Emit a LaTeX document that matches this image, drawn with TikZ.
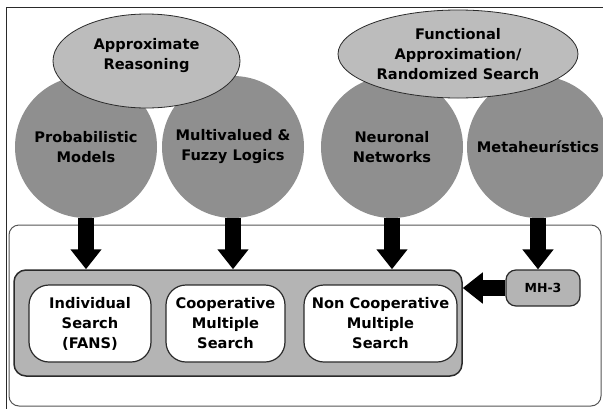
\documentclass[tikz,border=0pt]{standalone}
\usepackage{fontspec}
\setmainfont{DejaVu Sans}
\usetikzlibrary{shapes.geometric,arrows.meta}
\definecolor{circgray}{HTML}{8F8F8F}
\definecolor{ellgray}{HTML}{BCBCBC}
\definecolor{boxgray}{HTML}{B4B4B4}
\definecolor{edge}{HTML}{2A2A2A}
\tikzset{
  bigcircle/.style={circle,fill=circgray,draw=none,minimum size=142pt,inner sep=0pt,
    font=\fontsize{14.6}{20}\selectfont\bfseries,align=center},
  bigellipse/.style={ellipse,fill=ellgray,draw=edge,line width=0.8pt,inner sep=0pt,
    font=\fontsize{14.6}{20}\selectfont\bfseries,align=center},
  container/.style={rectangle,rounded corners=12pt,fill=boxgray,draw=edge,line width=1.5pt,
    minimum width=448pt,minimum height=106pt,inner sep=0pt},
  whitebox/.style={rectangle,rounded corners=20pt,fill=white,draw=edge,line width=1.2pt,
    minimum height=77pt,inner sep=0pt,font=\fontsize{14.6}{20}\selectfont\bfseries,align=center},
  mhbox/.style={rectangle,rounded corners=10pt,fill=boxgray,draw=edge,line width=1.2pt,
    minimum width=74pt,minimum height=36pt,inner sep=0pt,font=\fontsize{12.5}{14}\selectfont\bfseries},
  bigarrow/.style={draw=black,line width=16pt,-{Triangle[width=30pt,length=20pt]}},
}
\begin{document}
\begin{tikzpicture}[x=1pt,y=-1pt]
\useasboundingbox (0,0) rectangle (603,408);
\fill[white] (0,0) rectangle (603,408);
\begin{scope}
\clip (0,0) rectangle (603,408);
% outer frame
\draw[edge,line width=1pt] (6,7) rectangle (660,460);
% inner frame
\draw[edge!80,line width=1pt,rounded corners=10pt] (9,225) rectangle (601,406);
% circles
\node[bigcircle] (c1) at (86,147) {Probabilistic\\Models};
\node[bigcircle] (c2) at (233,147) {Multivalued \&\\Fuzzy Logics};
\node[bigcircle] (c3) at (392,147) {Neuronal\\Networks};
\node[bigcircle] (c4) at (538,147) {Metaheurístics};
% ellipses
\node[bigellipse,minimum width=187pt,minimum height=94pt] (e1) at (146.5,61) {Approximate\\Reasoning\\[-6pt]};
\node[bigellipse,minimum width=240pt,minimum height=88pt] (e2) at (458,54) {Functional\\Approximation/\\Randomized Search};
% container and boxes
\node[container] (cont) at (238,323) {};
\node[whitebox,minimum width=122pt] (w1) at (90,323.5) {Individual\\Search\\(FANS)};
\node[whitebox,minimum width=119pt] (w2) at (225.5,323.5) {Cooperative\\Multiple\\Search};
\node[whitebox,minimum width=153pt] (w3) at (380.5,323.5) {Non Cooperative\\Multiple\\Search};
\node[mhbox] (mh) at (543,288) {MH-3};
% arrows
\draw[bigarrow] (c1.south) -- (c1.south |- cont.north);
\draw[bigarrow] (c2.south) -- (c2.south |- cont.north);
\draw[bigarrow] (c3.south) -- (c3.south |- cont.north);
\draw[bigarrow] (c4.south) -- (c4.south |- mh.north);
\draw[bigarrow] (mh.west) -- (cont.east |- mh.west);
\end{scope}
\end{tikzpicture}
\end{document}
